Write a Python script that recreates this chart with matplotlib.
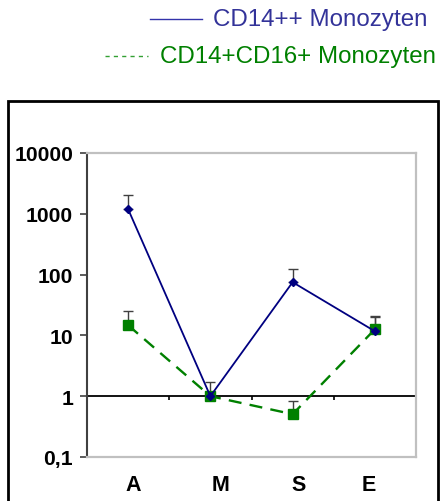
import matplotlib
matplotlib.use("Agg")
import matplotlib.pyplot as plt
import matplotlib.transforms as mtransforms
from matplotlib.lines import Line2D
from matplotlib.patches import Rectangle
from matplotlib.ticker import FixedLocator, FixedFormatter, NullLocator

plt.rcParams["font.family"] = ["Liberation Sans", "DejaVu Sans"]

# Relative expression per group (log scale)
groups = ["A", "M", "S", "E"]
cd14_vals = [1190, 1.0, 75, 11.7]
cd14_err = [840, 0.7, 48, 9.3]
cd16_vals = [14.7, 1.0, 0.506, 12.6]
cd16_err = [10.3, 0.0, 0.33, 7.4]
ytick_vals = [0.1, 1, 10, 100, 1000, 10000]
ytick_labels = ["0,1", "1", "10", "100", "1000", "10000"]
label_shift_px = [5, 10, 6, -6]  # category labels sit slightly off-centre

fig = plt.figure(figsize=(4.41, 5.02), dpi=100)
ax = fig.add_axes([87 / 441, 1 - 458 / 502, 329 / 441, 304 / 502])

x = [i + 0.5 for i in range(len(groups))]
navy = "#000080"
green = "#008000"

# error bars (upper only)
ax.errorbar(x, cd14_vals, yerr=[[0] * 4, cd14_err], fmt="none", ecolor="#404040",
            elinewidth=1.0, capsize=3.5, capthick=1.0, zorder=2)
ax.errorbar(x, cd16_vals, yerr=[[0] * 4, cd16_err], fmt="none", ecolor="#404040",
            elinewidth=1.0, capsize=3.5, capthick=1.0, zorder=2)

ax.plot(x, cd16_vals, color=green, lw=1.7, ls=(0, (5.5, 3.5)), marker="s", ms=7,
        mfc=green, mec=green, zorder=3)
ax.plot(x, cd14_vals, color=navy, lw=1.3, marker="D", ms=4.5,
        mfc=navy, mec=navy, zorder=4)

ax.set_yscale("log")
ax.set_ylim(0.1, 10000)
ax.set_xlim(0, 4)
ax.yaxis.set_major_locator(FixedLocator(ytick_vals))
ax.yaxis.set_major_formatter(FixedFormatter(ytick_labels))
ax.yaxis.set_minor_locator(NullLocator())
ax.tick_params(axis="y", direction="out", length=5, width=1.2, color="#404040",
               labelsize=15.2, pad=5)
for t in ax.get_yticklabels():
    t.set_fontweight("bold")

ax.set_xticks(x)
ax.set_xticklabels(groups, fontsize=15.5, fontweight="bold")
ax.tick_params(axis="x", length=0, pad=12)
for t, dx in zip(ax.get_xticklabels(), label_shift_px):
    t.set_transform(t.get_transform() + mtransforms.ScaledTranslation(dx / 100, 0, fig.dpi_scale_trans))

# reference line at 1 with small ticks between categories
ax.axhline(1, color="black", lw=1.3, zorder=1)
ax.vlines([1, 2, 3, 4], 0.86, 1, color="black", lw=1.2, zorder=1)

for side in ["top", "right", "bottom"]:
    ax.spines[side].set_color("#c0c0c0")
    ax.spines[side].set_linewidth(1.6)
ax.spines["left"].set_color("#404040")
ax.spines["left"].set_linewidth(1.5)

# legend above the chart frame
fig.add_artist(Line2D([150 / 441, 202 / 441], [1 - 20 / 502] * 2, color="#3333aa", lw=1.0))
fig.text(213 / 441, 1 - 20 / 502, "CD14++ Monozyten", color="#333399", fontsize=17.4,
         va="center", ha="left")
fig.add_artist(Line2D([105 / 441, 148 / 441], [1 - 57 / 502] * 2, color="#33a033", lw=1.0,
                      ls=(0, (3, 3))))
fig.text(160 / 441, 1 - 57 / 502, "CD14+CD16+ Monozyten", color=green, fontsize=17.4,
         va="center", ha="left")

# chart frame
fig.add_artist(Rectangle((8 / 441, -0.05), 430 / 441, 1.05 - 102 / 502, transform=fig.transFigure,
                         fill=False, edgecolor="black", lw=2.0))

fig.savefig("out.png", dpi=100)
